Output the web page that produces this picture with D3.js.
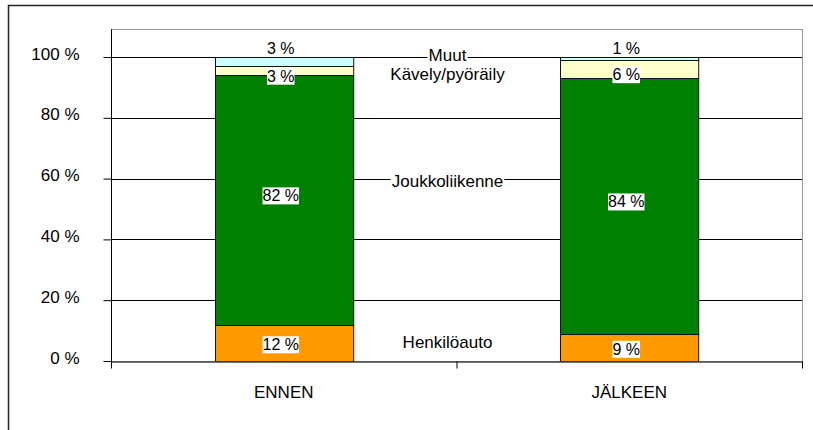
<!DOCTYPE html>
<html>
<head>
<meta charset="utf-8">
<script src="https://cdn.jsdelivr.net/npm/d3@7"></script>
<style>
  body { margin: 0; background: #fff; }
  text { font-family: "Liberation Sans", Arial, sans-serif; fill: #000; }
</style>
</head>
<body>
<div id="my_dataviz"></div>
<script>
// data
var categories = ["ENNEN", "JÄLKEEN"];
var series = ["Henkilöauto", "Joukkoliikenne", "Kävely/pyöräily", "Muut"];
var henkiloauto = [12, 9];
var joukkoliikenne = [82, 84];
var kavely = [3, 6];
var muut = [3, 1];
var yTicks = [0, 20, 40, 60, 80, 100];

var colors = {
  "Henkilöauto": "#FF9900",
  "Joukkoliikenne": "#008000",
  "Kävely/pyöräily": "#FFFFCC",
  "Muut": "#CCFFFF"
};

// rows for d3.stack
var rows = categories.map(function (c, i) {
  return {
    cat: c,
    "Henkilöauto": henkiloauto[i],
    "Joukkoliikenne": joukkoliikenne[i],
    "Kävely/pyöräily": kavely[i],
    "Muut": muut[i]
  };
});

var W = 813, H = 430;
var plot = { left: 111, right: 802, top: 29, bottom: 361 };

var svg = d3.select("#my_dataviz")
  .append("svg")
  .attr("width", W)
  .attr("height", H);

// outer chart frame (runs off the picture right and bottom)
svg.append("rect")
  .attr("x", 8.5).attr("y", 5.5)
  .attr("width", 820).attr("height", 450)
  .attr("fill", "#fff")
  .attr("stroke", "#222")
  .attr("stroke-width", 1.5);

var x = d3.scaleBand()
  .domain(categories)
  .range([plot.left, plot.right])
  .paddingInner(0.6)
  .paddingOuter(0.3);

var y = d3.scaleLinear()
  .domain([0, 100])
  .range([plot.bottom, 57]);

// plot area border
svg.append("rect")
  .attr("x", plot.left + 0.5).attr("y", plot.top + 0.5)
  .attr("width", plot.right - plot.left).attr("height", plot.bottom - plot.top)
  .attr("fill", "none")
  .attr("stroke", "#999");

// gridlines
svg.append("g")
  .selectAll("line")
  .data(yTicks.slice(1))
  .enter()
  .append("line")
  .attr("x1", plot.left).attr("x2", plot.right)
  .attr("y1", function (d) { return Math.round(y(d)) + 0.5; })
  .attr("y2", function (d) { return Math.round(y(d)) + 0.5; })
  .attr("stroke", "#000");

// stacked bars
var stacked = d3.stack().keys(series)(rows);

svg.append("g")
  .selectAll("g")
  .data(stacked)
  .enter()
  .append("g")
  .attr("fill", function (s) { return colors[s.key]; })
  .selectAll("rect")
  .data(function (s) { return s; })
  .enter()
  .append("rect")
  .attr("x", function (d) { return Math.round(x(d.data.cat)) + 0.5; })
  .attr("y", function (d) { return Math.round(y(d[1])) + 0.5; })
  .attr("width", x.bandwidth())
  .attr("height", function (d) { return Math.round(y(d[0])) - Math.round(y(d[1])); })
  .attr("stroke", "#111")
  .attr("stroke-width", 1);

// y axis
var yAxis = svg.append("g")
  .attr("transform", "translate(" + (plot.left + 0.5) + ",0)")
  .call(d3.axisLeft(y).tickValues(yTicks)
    .tickSizeInner(8).tickSizeOuter(0).tickPadding(24)
    .tickFormat(function (d) { return d + " %"; }));
yAxis.select(".domain").remove();
yAxis.selectAll("line").attr("stroke", "#000");
yAxis.selectAll("text")
  .attr("font-size", 17)
  .attr("dy", "0.12em")
  .attr("font-family", "Liberation Sans, Arial, sans-serif");

svg.append("line")
  .attr("x1", plot.left + 0.5).attr("x2", plot.left + 0.5)
  .attr("y1", plot.top).attr("y2", plot.bottom + 7)
  .attr("stroke", "#000");

// x axis, ticks between categories
var xEdge = d3.scaleLinear().domain([0, categories.length]).range([plot.left, plot.right]);
var xAxis = svg.append("g")
  .attr("transform", "translate(0," + (plot.bottom + 0.5) + ")")
  .call(d3.axisBottom(xEdge).ticks(categories.length).tickSizeInner(7).tickSizeOuter(0).tickFormat(""));
xAxis.select(".domain").attr("stroke", "#444").attr("stroke-width", 1.5);
xAxis.selectAll("line").attr("stroke", "#000");

svg.append("g")
  .selectAll("text")
  .data(categories)
  .enter()
  .append("text")
  .attr("x", function (d) { return x(d) + x.bandwidth() / 2; })
  .attr("y", 398)
  .attr("text-anchor", "middle")
  .attr("font-size", 17)
  .text(function (d) { return d; });

// value labels with white boxes
var labelShift = { "Henkilöauto": 1.5, "Joukkoliikenne": -4.5, "Kävely/pyöräily": 5 };
var labels = [];
stacked.forEach(function (s) {
  s.forEach(function (d) {
    var cy = s.key === "Muut" ? y(d[1]) - 9 : (y(d[0]) + y(d[1])) / 2 + labelShift[s.key];
    labels.push({ x: x(d.data.cat) + x.bandwidth() / 2 - 3, cy: cy, text: (d[1] - d[0]) + " %" });
  });
});

var lab = svg.append("g")
  .selectAll("g")
  .data(labels)
  .enter()
  .append("g");
lab.append("text")
  .attr("x", function (d) { return d.x; })
  .attr("y", function (d) { return d.cy + 6; })
  .attr("text-anchor", "middle")
  .attr("font-size", 16)
  .text(function (d) { return d.text; });
lab.each(function () {
  var g = d3.select(this);
  var b = g.select("text").node().getBBox();
  g.insert("rect", "text")
    .attr("x", b.x).attr("y", b.y)
    .attr("width", b.width).attr("height", b.height)
    .attr("fill", "#fff");
});

// series names between the bars
var nameAt = { "Henkilöauto": 6.2, "Joukkoliikenne": 59.2, "Kävely/pyöräily": 94.4, "Muut": 100.7 };
var names = svg.append("g")
  .selectAll("g")
  .data(series)
  .enter()
  .append("g");
names.append("text")
  .attr("x", (plot.left + plot.right) / 2 - 9)
  .attr("y", function (d) { return y(nameAt[d]) + 6; })
  .attr("text-anchor", "middle")
  .attr("font-size", 17)
  .text(function (d) { return d; });
names.each(function () {
  var g = d3.select(this);
  var b = g.select("text").node().getBBox();
  g.insert("rect", "text")
    .attr("x", b.x - 1).attr("y", b.y + 2)
    .attr("width", b.width + 2).attr("height", b.height - 4)
    .attr("fill", "#fff");
});
</script>
</body>
</html>
